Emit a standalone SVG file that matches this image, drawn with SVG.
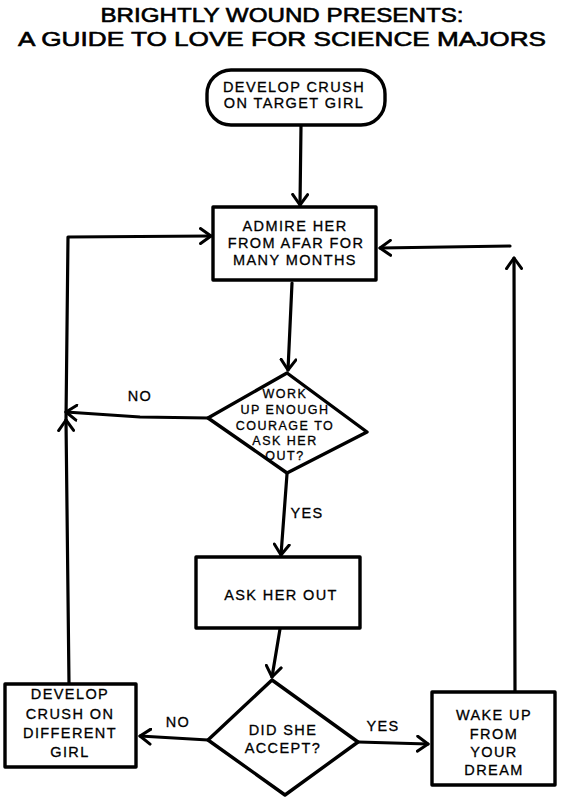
<svg xmlns="http://www.w3.org/2000/svg" width="563" height="800" viewBox="0 0 563 800">
<defs>
<style>
.node{fill:#fff;stroke:#000;stroke-width:3.4;stroke-linejoin:round}
.conn{fill:none;stroke:#000;stroke-width:3.2;stroke-linecap:round;stroke-linejoin:round}
text{font-family:"Liberation Sans","DejaVu Sans",sans-serif;fill:#000;stroke:#000;stroke-width:0.3;text-anchor:middle}
.t{font-size:14.5px;letter-spacing:1.4px}
.s{font-size:12.5px;letter-spacing:1.5px}
.title{font-size:20px;stroke-width:0.6}
</style>
<marker id="arr" viewBox="0 0 14 18" refX="12" refY="9" markerWidth="14" markerHeight="18" orient="auto" markerUnits="userSpaceOnUse">
<path d="M1.5,1.5 L12,9 L1.5,16.5" fill="none" stroke="#000" stroke-width="3" stroke-linecap="round" stroke-linejoin="round"/>
</marker>
</defs>
<rect width="563" height="800" fill="#fff"/>
<g id="title">
<text class="title" x="282" y="22" textLength="363" lengthAdjust="spacingAndGlyphs">BRIGHTLY WOUND PRESENTS:</text>
<text class="title" x="282" y="46" textLength="528" lengthAdjust="spacingAndGlyphs">A GUIDE TO LOVE FOR SCIENCE MAJORS</text>
</g>
<g id="connectors">
<path class="conn" d="M301,126 L300,205" marker-end="url(#arr)"/>
<path class="conn" d="M292,283 L288,370" marker-end="url(#arr)"/>
<path class="conn" d="M208,418 L140,417 L66,412" marker-end="url(#arr)"/>
<path class="conn" d="M287,474 L281,555" marker-end="url(#arr)"/>
<path class="conn" d="M280,629 L272,677" marker-end="url(#arr)"/>
<path class="conn" d="M208,740 L140,736" marker-end="url(#arr)"/>
<path class="conn" d="M358,742 L428,744" marker-end="url(#arr)"/>
<path class="conn" d="M69,684 L66,420" marker-end="url(#arr)"/>
<path class="conn" d="M66,420 L68,237 L211,236" marker-end="url(#arr)"/>
<path class="conn" d="M515,692 L514,258" marker-end="url(#arr)"/>
<path class="conn" d="M510,246 L380,248" marker-end="url(#arr)"/>
<text x="140" y="401" class="t">NO</text>
<text x="307" y="518" class="t">YES</text>
<text x="178" y="727" class="t">NO</text>
<text x="383" y="731" class="t">YES</text>
</g>
<g id="start">
<rect class="node" x="207" y="70" width="178" height="55" rx="24"/>
<text class="t" x="294" y="92">DEVELOP CRUSH</text>
<text class="t" x="294" y="108">ON TARGET GIRL</text>
</g>
<g id="admire">
<rect class="node" x="213" y="207" width="163" height="73"/>
<text class="t" x="295" y="231">ADMIRE HER</text>
<text class="t" x="296" y="248">FROM AFAR FOR</text>
<text class="t" x="295" y="265">MANY MONTHS</text>
</g>
<g id="courage">
<polygon class="node" points="287,373 367,432 287,473 208,418"/>
<text class="s" x="285" y="398">WORK</text>
<text class="s" x="285" y="414">UP ENOUGH</text>
<text class="s" x="285" y="430">COURAGE TO</text>
<text class="s" x="285" y="445">ASK HER</text>
<text class="s" x="285" y="460">OUT?</text>
</g>
<g id="ask">
<rect class="node" x="196" y="557" width="164" height="71"/>
<text class="t" x="281" y="600">ASK HER OUT</text>
</g>
<g id="accept">
<polygon class="node" points="272,680 358,742 285,795 208,740"/>
<text class="t" x="283" y="735">DID SHE</text>
<text class="t" x="283" y="753">ACCEPT?</text>
</g>
<g id="different">
<rect class="node" x="5" y="684" width="131" height="83"/>
<text class="t" x="70" y="699">DEVELOP</text>
<text class="t" x="70" y="719">CRUSH ON</text>
<text class="t" x="70" y="738">DIFFERENT</text>
<text class="t" x="70" y="757">GIRL</text>
</g>
<g id="wake">
<rect class="node" x="432" y="692" width="123" height="93"/>
<text class="t" x="494" y="720">WAKE UP</text>
<text class="t" x="494" y="739">FROM</text>
<text class="t" x="494" y="757">YOUR</text>
<text class="t" x="494" y="775">DREAM</text>
</g>
</svg>
